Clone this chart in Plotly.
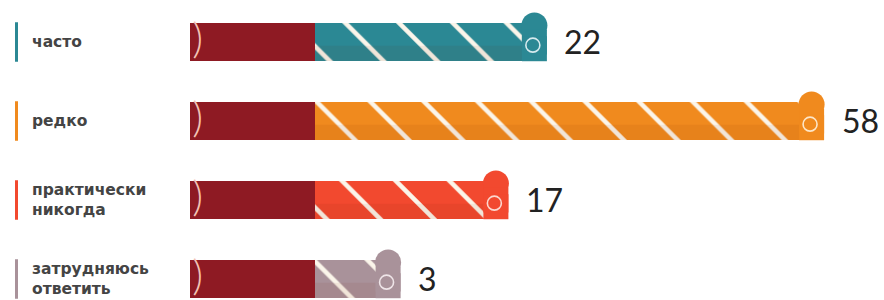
import plotly.graph_objects as go

# ---- data ----
categories = ["часто", "редко", "практически<br>никогда", "затрудняюсь<br>ответить"]
values = [22, 58, 17, 3]
value_labels = ["22", "58", "17", "3"]
colors = ["#2b8894", "#f08a1e", "#f2492f", "#a9929a"]
curl_colors = ["#d6eaee", "#fde6c8", "#fcd8cf", "#efe5e8"]

# ---- style constants ----
K = 7.7                  # px per value unit
BASE_W = 125 / K         # dark red lead segment
LEAD = 50 / K            # striped lead-in before value
DARK = "#8e1a23"
STRIPE = "#fbf5ea"
ROW_PX, ROW0_PX, H = 79, 42, 300
BAR_W = 38 / ROW_PX

ys = list(range(len(values)))
ends = [BASE_W + LEAD + v for v in values]

fig = go.Figure()

# dark red base segment
fig.add_trace(go.Bar(
    y=ys, x=[BASE_W] * len(ys), base=0, orientation="h", width=BAR_W,
    marker=dict(color=DARK, line=dict(width=0)), hoverinfo="skip", showlegend=False))

# striped value segment (one trace per row so the pattern colours are honoured)
for y, v, col in zip(ys, values, colors):
    fig.add_trace(go.Bar(
        y=[y], x=[LEAD + v], base=BASE_W, orientation="h", width=BAR_W,
        marker=dict(color=col, line=dict(width=0),
                    pattern=dict(shape="\\", size=38, solidity=0.12, fillmode="replace",
                                 fgcolor=STRIPE, fgopacity=1, bgcolor=col)),
        hoverinfo="skip", showlegend=False))

# subtle darker lower part for the twist effect
fig.add_trace(go.Bar(
    y=ys, x=[LEAD + v for v in values], base=BASE_W, orientation="h",
    width=BAR_W * 0.4, offset=BAR_W * 0.1,
    marker=dict(color="rgba(110,30,0,0.07)", line=dict(width=0)),
    hoverinfo="skip", showlegend=False))

# cap roll: rounded top + square body
for dy, sym, sz in [(-0.21, "circle", 26), (0.0, "square", 25), (0.085, "square", 25)]:
    fig.add_trace(go.Scatter(
        x=ends, y=[y + dy for y in ys], mode="markers",
        marker=dict(symbol=sym, size=sz, color=colors, line=dict(width=0)),
        hoverinfo="skip", showlegend=False))
# curl inside cap
fig.add_trace(go.Scatter(
    x=[e - 0.2 for e in ends], y=[y + 0.04 for y in ys], mode="markers",
    marker=dict(symbol="circle-open", size=14, color=curl_colors, line=dict(width=1.6, color=curl_colors)),
    hoverinfo="skip", showlegend=False))

# left arc on dark segment
fig.add_trace(go.Scatter(
    x=[1.0] * len(ys), y=ys, mode="text", text=[")"] * len(ys),
    textfont=dict(family="Lato", size=42, color="#f3c2b4", weight=300),
    hoverinfo="skip", showlegend=False))

# value labels
for y, e, t in zip(ys, ends, value_labels):
    fig.add_annotation(x=e, y=y, text=t, showarrow=False, xanchor="left", yanchor="middle",
                       xshift=28, yshift=1,
                       font=dict(family="Lato", size=32, color="#222222"))

# category labels + coloured markers
for y, c, col in zip(ys, categories, colors):
    fig.add_annotation(xref="paper", x=30 / 884, y=y, text=c, showarrow=False,
                       xanchor="left", yanchor="middle", align="left",
                       font=dict(family="DejaVu Sans", size=15.5, color="#444444", weight="bold"))
    fig.add_shape(type="line", xref="paper", yref="y", x0=16.5 / 884, x1=16.5 / 884,
                  y0=y - 0.25, y1=y + 0.25, line=dict(color=col, width=3))

fig.update_layout(
    width=884, height=H, margin=dict(l=0, r=0, t=0, b=0),
    paper_bgcolor="white", plot_bgcolor="white", barmode="overlay",
    xaxis=dict(range=[-190 / K, (884 - 190) / K], visible=False, fixedrange=True),
    yaxis=dict(range=[(H - ROW0_PX) / ROW_PX, -ROW0_PX / ROW_PX], visible=False, fixedrange=True),
)

fig.write_html("out.html", config={"displayModeBar": False},
               post_script="document.body.style.margin='0';")
